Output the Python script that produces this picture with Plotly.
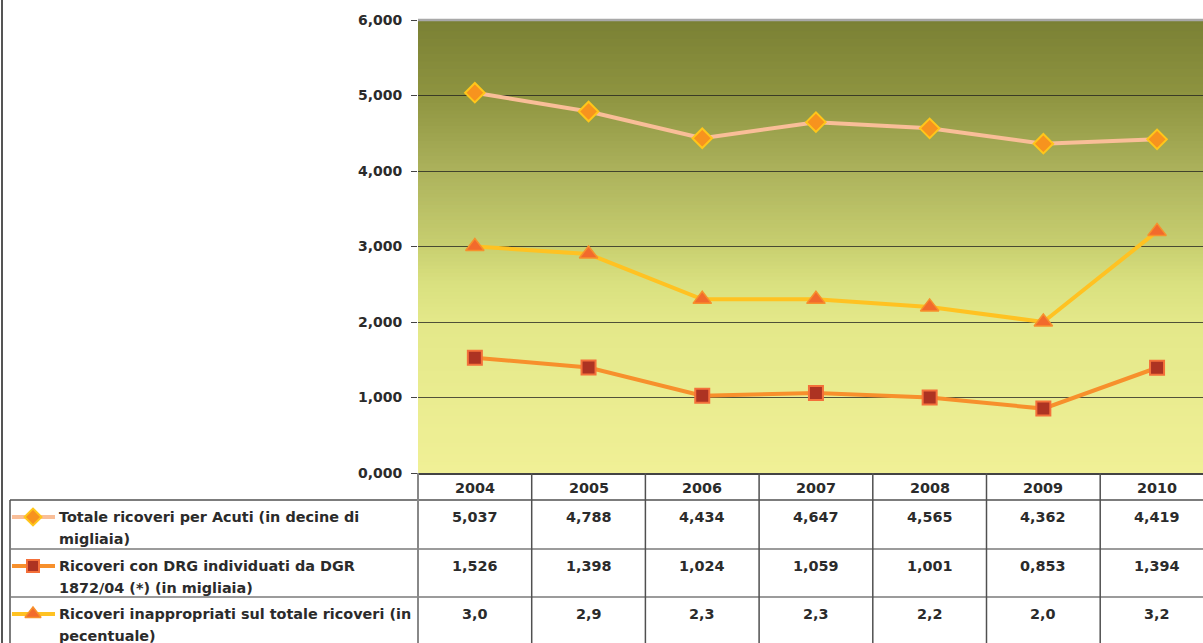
import plotly.graph_objects as go

# ---- data -------------------------------------------------------------
years = ["2004", "2005", "2006", "2007", "2008", "2009", "2010"]
totale_acuti = [5.037, 4.788, 4.434, 4.647, 4.565, 4.362, 4.419]
ricoveri_drg = [1.526, 1.398, 1.024, 1.059, 1.001, 0.853, 1.394]
inappropriati = [3.0, 2.9, 2.3, 2.3, 2.2, 2.0, 3.2]
y_ticks = [0, 1, 2, 3, 4, 5, 6]
y_tick_labels = ["0,000", "1,000", "2,000", "3,000", "4,000", "5,000", "6,000"]

series_labels = [
    ("Totale ricoveri per Acuti (in decine di", "migliaia)"),
    ("Ricoveri con DRG individuati da DGR", "1872/04 (*) (in migliaia)"),
    ("Ricoveri inappropriati sul totale ricoveri (in", "pecentuale)"),
]
series_values = [totale_acuti, ricoveri_drg, inappropriati]
series_decimals = [3, 3, 1]

# ---- styling ----------------------------------------------------------
W, H = 1203, 643
FONT = "DejaVu Sans"
TXT = "#2b2b2b"
FS = 14.4
styles = [
    dict(line=dict(color="#f9be98", width=4),
         marker=dict(symbol="diamond", size=15, color="#f7931e",
                     line=dict(color="#ffc61a", width=2))),
    dict(line=dict(color="#f7902c", width=4),
         marker=dict(symbol="square", size=14, color="#ad3322",
                     line=dict(color="#f4703a", width=2))),
    dict(line=dict(color="#ffc222", width=4),
         marker=dict(symbol="triangle-up", size=16, color="#f26a2c",
                     line=dict(color="#f7902c", width=1.5))),
]

# plot area in pixels
X0, Y0, Y1 = 418, 20, 473
COL_W = 113.7


def fx(px):
    return px / W


def fy(py):
    return 1 - py / H


def it_num(v, d):
    return f"{v:.{d}f}".replace(".", ",")


fig = go.Figure()

idx = list(range(len(years)))
for vals, st in zip(series_values, styles):
    fig.add_trace(go.Scatter(x=idx, y=vals, mode="lines+markers",
                             line=st["line"], marker=st["marker"],
                             showlegend=False, hoverinfo="skip"))

# legend sample glyphs on a full-figure pixel axis
row_mid = [517, 566, 614]
for st, ym in zip(styles, row_mid):
    fig.add_trace(go.Scatter(x=[12, 55], y=[ym, ym], mode="lines",
                             line=st["line"], xaxis="x2", yaxis="y2",
                             showlegend=False, hoverinfo="skip"))
    m = dict(st["marker"])
    m["size"] = m["size"] - 2
    fig.add_trace(go.Scatter(x=[33], y=[ym], mode="markers", marker=m,
                             xaxis="x2", yaxis="y2",
                             showlegend=False, hoverinfo="skip"))

shapes = []

# vertical gradient in the plot area
stops = [(0.0, (240, 240, 150)), (1.0, (234, 236, 144)), (2.0, (227, 232, 137)),
         (2.5, (218, 225, 128)), (3.0, (200, 207, 112)), (4.0, (172, 178, 92)),
         (5.0, (142, 148, 64)), (6.0, (122, 128, 52))]


def grad(v):
    for (a, ca), (b, cb) in zip(stops[:-1], stops[1:]):
        if a <= v <= b:
            t = (v - a) / (b - a)
            return tuple(round(ca[i] + (cb[i] - ca[i]) * t) for i in range(3))
    return stops[-1][1]


n = 120
for i in range(n):
    a = 6 * i / n
    b = min(6, 6 * (i + 1) / n + 0.04)
    c = grad(6 * (i + 0.5) / n)
    shapes.append(dict(type="rect", xref="x domain", yref="y", x0=0, x1=1,
                       y0=a, y1=b, layer="below", line=dict(width=0),
                       fillcolor=f"rgb{c}"))

# table lines
LINE = "#505050"
LIGHT = "#7a7a7a"


def hline(y, xa, xb, color=LINE, w=1.5):
    shapes.append(dict(type="line", xref="paper", yref="paper",
                       x0=fx(xa), x1=fx(xb), y0=fy(y), y1=fy(y),
                       line=dict(color=color, width=w)))


def vline(x, ya, yb, color=LINE, w=1.5):
    shapes.append(dict(type="line", xref="paper", yref="paper",
                       x0=fx(x), x1=fx(x), y0=fy(ya), y1=fy(yb),
                       line=dict(color=color, width=w)))


vline(2, 0, H, "#555555", 2)            # outer frame
vline(10, 500, H)                       # table left edge
hline(500, 10, W)
hline(549, 10, W, LIGHT)
hline(597, 10, W, LIGHT)
for k in range(1, 7):
    vline(X0 + k * COL_W, Y1, H)
vline(X0, Y1, H, "#888888", 2)
hline(Y0, X0, W, "#a8a8a8", 2.5)        # top border of plot area

annotations = []
tfont = dict(family=FONT, size=FS, color=TXT, weight="bold")
# year header
for k, yr in enumerate(years):
    annotations.append(dict(x=fx(X0 + (k + 0.5) * COL_W), y=fy(488), xref="paper",
                            yref="paper", text=yr, showarrow=False,
                            xanchor="center", yanchor="middle", font=tfont))
# value rows and row labels
for r, (lab, vals, d) in enumerate(zip(series_labels, series_values, series_decimals)):
    ym = row_mid[r]
    for k, v in enumerate(vals):
        annotations.append(dict(x=fx(X0 + (k + 0.5) * COL_W), y=fy(ym), xref="paper",
                                yref="paper", text=it_num(v, d), showarrow=False,
                                xanchor="center", yanchor="middle", font=tfont))
    for j, line in enumerate(lab):
        annotations.append(dict(x=fx(57), y=fy(ym + 22 * j), xref="paper",
                                yref="paper", text=line, showarrow=False,
                                xanchor="left", yanchor="middle", font=tfont))

fig.update_layout(
    width=W, height=H,
    margin=dict(l=0, r=0, t=0, b=0, autoexpand=False),
    paper_bgcolor="white", plot_bgcolor="rgba(0,0,0,0)",
    xaxis=dict(domain=[fx(X0), 1], range=[-0.5, -0.5 + (W - X0) / COL_W],
               showticklabels=False, showgrid=False, zeroline=False,
               showline=True, linecolor="#444444", linewidth=1.5, ticks="",
               automargin=False),
    yaxis=dict(domain=[fy(Y1), fy(Y0)], range=[0, 6], tickvals=y_ticks,
               ticktext=y_tick_labels, showgrid=True,
               gridcolor="rgba(30,30,30,0.75)", gridwidth=1.2, zeroline=False,
               showline=False, ticks="outside", ticklen=6, tickcolor="#444444",
               tickwidth=1.2, ticklabelstandoff=6, automargin=False,
               tickfont=dict(family=FONT, size=14, color=TXT, weight="bold")),
    xaxis2=dict(domain=[0, 1], range=[0, W], visible=False, anchor="y2",
                automargin=False),
    yaxis2=dict(domain=[0, 1], range=[H, 0], visible=False, anchor="x2",
                automargin=False),
    shapes=shapes,
    annotations=annotations,
)

fig.write_html("out.html")
